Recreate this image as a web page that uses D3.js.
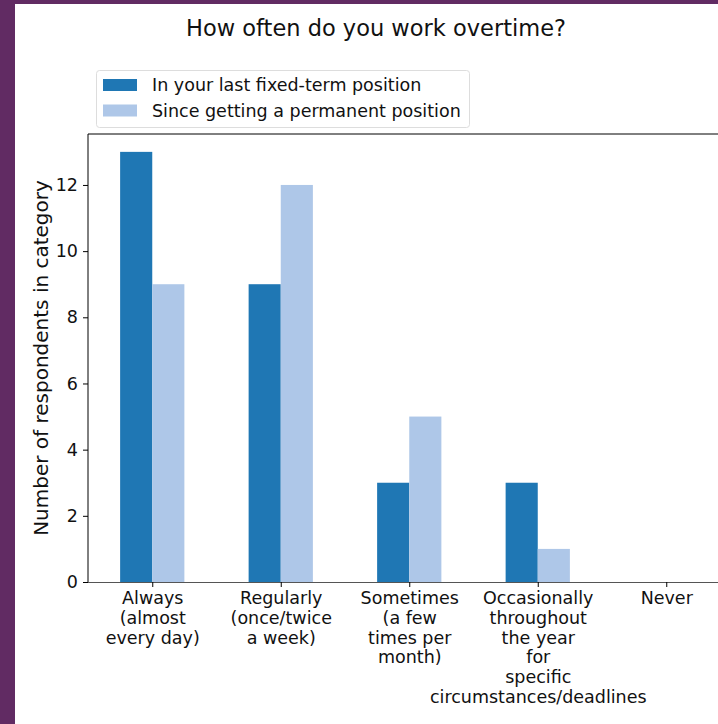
<!DOCTYPE html>
<html>
<head>
<meta charset="utf-8">
<script src="https://cdn.jsdelivr.net/npm/d3@7"></script>
<style>
  body { margin: 0; background: #612b63; }
  svg { display: block; font-family: 'DejaVu Sans', sans-serif; }
</style>
</head>
<body>
<svg width="718" height="724"></svg>
<script>
// data
let categories = [
  ['Always', '(almost', 'every day)'],
  ['Regularly', '(once/twice', 'a week)'],
  ['Sometimes', '(a few', 'times per', 'month)'],
  ['Occasionally', 'throughout', 'the year', 'for', 'specific', 'circumstances/deadlines'],
  ['Never']
]
let seriesNames = ['In your last fixed-term position', 'Since getting a permanent position']
let fixedTerm = [13, 9, 3, 3, 0]
let permanent = [9, 12, 5, 1, 0]
let yTicks = [0, 2, 4, 6, 8, 10, 12]

let colors = ['#1f77b4', '#aec7e8']
let series = [fixedTerm, permanent]

let svg = d3.select('svg')

// white card on purple frame
svg.append('rect')
  .attr('x', 15).attr('y', 4)
  .attr('width', 703).attr('height', 720)
  .attr('fill', 'white')

let plotLeft = 88
let plotTop = 134
let plotBottom = 582
let step = 128.5
let fs = 17.5

let x = d3.scaleLinear().domain([-0.5, 4.5]).range([plotLeft, plotLeft + 5 * step])
let y = d3.scaleLinear().domain([0, 13.54]).range([plotBottom, plotTop])

let g = svg.append('g')

// bars
series.forEach(function (vals, s) {
  g.selectAll('.bar' + s)
    .data(vals)
    .enter()
    .append('rect')
    .attr('x', (d, i) => x(i - 0.25 + s * 0.25))
    .attr('width', x(0.25) - x(0))
    .attr('y', d => y(d))
    .attr('height', d => y(0) - y(d))
    .attr('fill', colors[s])
})

// spines
g.append('line')
  .attr('x1', plotLeft).attr('x2', 718)
  .attr('y1', plotTop).attr('y2', plotTop)
  .attr('stroke', 'black').attr('stroke-width', 1)
g.append('line')
  .attr('x1', plotLeft).attr('x2', plotLeft)
  .attr('y1', plotTop).attr('y2', plotBottom)
  .attr('stroke', 'black').attr('stroke-width', 1)

// y axis
let yAxis = g.append('g')
  .attr('transform', 'translate(' + plotLeft + ',0)')
  .call(d3.axisLeft(y).tickValues(yTicks).tickSize(5).tickPadding(5))
yAxis.select('.domain').remove()
yAxis.selectAll('text').attr('font-size', fs).attr('fill', '#111')
  .attr('font-family', 'DejaVu Sans')

// x axis
let xAxis = g.append('g')
  .attr('transform', 'translate(0,' + plotBottom + ')')
  .call(d3.axisBottom(x).tickValues(d3.range(categories.length)).tickSize(5).tickFormat(''))
xAxis.select('.domain')
  .attr('d', 'M' + plotLeft + ',0.5H718')
  .attr('stroke', '#555')

xAxis.selectAll('.tick')
  .append('text')
  .attr('text-anchor', 'middle')
  .attr('font-size', fs)
  .attr('font-family', 'DejaVu Sans')
  .attr('fill', '#111')
  .each(function (d) {
    let t = d3.select(this)
    categories[d].forEach(function (line, k) {
      t.append('tspan')
        .attr('x', 0)
        .attr('y', 22 + k * 19.8)
        .text(line)
    })
  })

// title
svg.append('text')
  .attr('x', 376).attr('y', 36)
  .attr('text-anchor', 'middle')
  .attr('font-size', 22.5)
  .attr('fill', '#111')
  .text('How often do you work overtime?')

// y label
svg.append('text')
  .attr('transform', 'translate(48,358) rotate(-90)')
  .attr('text-anchor', 'middle')
  .attr('font-size', 20)
  .attr('fill', '#111')
  .text('Number of respondents in category')

// legend
let legend = svg.append('g')
legend.append('rect')
  .attr('x', 96.5).attr('y', 70.5)
  .attr('width', 373).attr('height', 57)
  .attr('rx', 3)
  .attr('fill', 'white')
  .attr('stroke', '#ddd')
seriesNames.forEach(function (name, i) {
  legend.append('rect')
    .attr('x', 103).attr('y', 79 + i * 25.5)
    .attr('width', 34).attr('height', 12)
    .attr('fill', colors[i])
  legend.append('text')
    .attr('x', 152).attr('y', 91 + i * 25.5)
    .attr('font-size', fs)
    .attr('fill', '#111')
    .text(name)
})
</script>
</body>
</html>
